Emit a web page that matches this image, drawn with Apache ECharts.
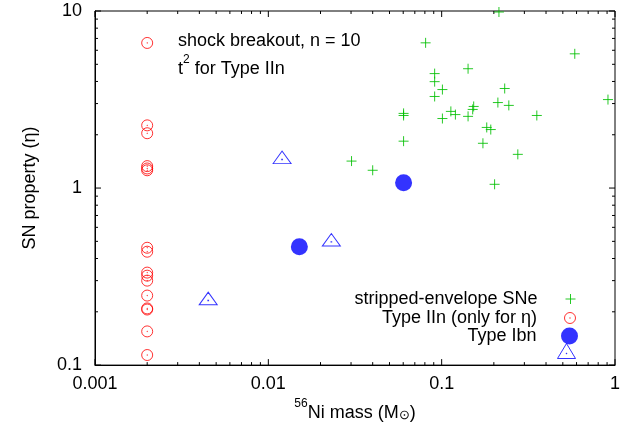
<!DOCTYPE html>
<html><head><meta charset="utf-8">
<script src="https://cdn.jsdelivr.net/npm/echarts@6/dist/echarts.min.js"></script>
<style>html,body{margin:0;padding:0;background:#fff}#c{width:628px;height:427px}</style>
</head><body><div id="c"></div>
<script>
// stripped-envelope SNe
const seX = [0.214,0.0808,0.586,0.142,0.0911,0.0911,0.101,0.231,0.0911,0.911,0.211,0.244,0.153,0.151,0.0603,0.0603,0.113,0.120,0.142,0.101,0.354,0.182,0.192,0.173,0.0603,0.275,0.0302,0.0400,0.202];
const seY = [9.87,6.61,5.73,4.72,4.43,3.99,3.60,3.65,3.29,3.16,3.04,2.93,2.89,2.78,2.64,2.57,2.71,2.60,2.54,2.47,2.57,2.20,2.14,1.79,1.84,1.55,1.42,1.26,1.05];
// Type IIn (only for eta)
const iinX = [0.002,0.002,0.002,0.002,0.002,0.002,0.002,0.002,0.002,0.002,0.002,0.002,0.002,0.002,0.002,0.002];
const iinY = [6.6,2.26,2.04,1.33,1.29,1.26,0.46,0.437,0.333,0.32,0.30,0.247,0.209,0.206,0.155,0.114];
// Type Ibn
const ibnX = [0.0151,0.0603];
const ibnY = [0.466,1.07];
// Type Ibn (triangles, unlabeled)
const triX = [0.0120,0.0231,0.0045];
const triY = [1.49,0.51,0.238];
// axis ticks
const xMajorTicks = [0.001,0.01,0.1,1];
const xMinorTicks = [0.002,0.003,0.004,0.005,0.006,0.007,0.008,0.009,0.02,0.03,0.04,0.05,0.06,0.07,0.08,0.09,0.2,0.3,0.4,0.5,0.6,0.7,0.8,0.9];
const yMajorTicks = [0.1,1,10];
const yMinorTicks = [0.2,0.3,0.4,0.5,0.6,0.7,0.8,0.9,2,3,4,5,6,7,8,9];
const xTickLabels = ['0.001','0.01','0.1','1'];
const yTickLabels = ['0.1','1','10'];

const X_MIN = 0.001, X_MAX = 1, Y_MIN = 0.1, Y_MAX = 10;
const FONT = 'Liberation Sans, Arial, sans-serif';
const GREEN = '#00c000', RED = '#ff0000', BLUE = '#0000ff';

const crossPath = 'path://M0,5L10,5M5,0L5,10';
const ringPath = 'path://M10,5A5,5 0 1,1 0,5A5,5 0 1,1 10,5Z M5.25,5A0.25,0.25 0 1,1 4.75,5A0.25,0.25 0 1,1 5.25,5Z';
const triPath = 'path://M0,15L9,0L18,15Z M9.3,10.3L8.7,10.3L8.7,9.7L9.3,9.7Z';

const zip = (a, b) => a.map((v, i) => [v, b[i]]);

function labelFor(list, labels) {
  return function (v) {
    for (let i = 0; i < list.length; i++) if (Math.abs(Math.log10(v) - Math.log10(list[i])) < 1e-6) return labels[i];
    return '';
  };
}

const xTickData = xMajorTicks.map(v => [v, Y_MIN, 1]).concat(xMinorTicks.map(v => [v, Y_MIN, 0]));
const yTickData = yMajorTicks.map(v => [X_MIN, v, 1]).concat(yMinorTicks.map(v => [X_MIN, v, 0]));

const tickStyle = { stroke: '#000', lineWidth: 1 };
const MAJOR_LEN = 6, MINOR_LEN = 3;

const chart = echarts.init(document.getElementById('c'), null, { renderer: 'canvas' });
const legendBase = {
  orient: 'vertical', align: 'right', right: 50, padding: 0, itemGap: 0,
  itemWidth: 56, selectedMode: false,
  textStyle: { fontFamily: FONT, fontSize: 18, color: '#000', lineHeight: 18 }
};
chart.setOption({
  animation: false,
  backgroundColor: '#fff',
  grid: { left: 95, right: 13, top: 11, bottom: 59, show: true, borderColor: '#000', borderWidth: 1, containLabel: false },
  xAxis: {
    type: 'log', logBase: 10, min: X_MIN, max: X_MAX,
    name: '{sup|56}{n|Ni mass (M}{sub|⊙}{n|)}', nameLocation: 'middle', nameGap: 28,
    nameTextStyle: {
      rich: {
        n: { fontFamily: FONT, fontSize: 18, color: '#000', lineHeight: 24, verticalAlign: 'bottom' },
        sup: { fontFamily: FONT, fontSize: 12, color: '#000', lineHeight: 24, verticalAlign: 'top' },
        sub: { fontFamily: FONT, fontSize: 13, color: '#000', lineHeight: 24, verticalAlign: 'bottom' }
      }
    },
    axisLine: { show: true, lineStyle: { color: '#000', width: 1 } },
    axisTick: { show: false }, splitLine: { show: false }, minorTick: { show: false },
    axisLabel: { fontFamily: FONT, fontSize: 18, color: '#000', margin: 10, formatter: labelFor(xMajorTicks, xTickLabels), showMinLabel: true, showMaxLabel: true }
  },
  yAxis: {
    type: 'log', logBase: 10, min: Y_MIN, max: Y_MAX,
    name: 'SN property (η)', nameLocation: 'middle', nameGap: 56, nameRotate: 90,
    nameTextStyle: { fontFamily: FONT, fontSize: 18, color: '#000' },
    axisLine: { show: true, lineStyle: { color: '#000', width: 1 } },
    axisTick: { show: false }, splitLine: { show: false },
    axisLabel: { fontFamily: FONT, fontSize: 18, color: '#000', margin: 13, formatter: labelFor(yMajorTicks, yTickLabels), showMinLabel: true, showMaxLabel: true }
  },
  legend: [
    Object.assign({}, legendBase, { top: 290, itemHeight: 10, data: [{ name: 'stripped-envelope SNe', itemStyle: { borderWidth: 1 } }] }),
    Object.assign({}, legendBase, { top: 309, itemHeight: 11, data: [{ name: 'Type IIn (only for η)', itemStyle: { borderWidth: 1 } }] }),
    Object.assign({}, legendBase, { top: 327, itemHeight: 17, data: [{ name: 'Type Ibn' }] }),
    Object.assign({}, legendBase, { top: 341, itemHeight: 15, formatter: () => '', data: [{ name: 'Type Ibn (tri)', itemStyle: { borderWidth: 1 } }] })
  ],
  graphic: [
    { type: 'text', left: 178, top: 32, style: { text: 'shock breakout, n = 10', font: '18px ' + FONT, fill: '#000' } },
    { type: 'text', left: 178, top: 54, style: {
      text: '{n|t}{s|2}{n| for Type IIn}',
      rich: {
        n: { fontFamily: FONT, fontSize: 18, fill: '#000', lineHeight: 24, verticalAlign: 'bottom' },
        s: { fontFamily: FONT, fontSize: 12, fill: '#000', lineHeight: 24, verticalAlign: 'top' }
      } } }
  ],
  series: [
    {
      name: 'x ticks', type: 'custom', coordinateSystem: 'cartesian2d', silent: true, clip: false,
      encode: { x: 0, y: 1 }, data: xTickData,
      renderItem: function (params, api) {
        const v = api.value(0), major = api.value(2);
        const pb = api.coord([v, Y_MIN]), pt = api.coord([v, Y_MAX]);
        const len = major ? MAJOR_LEN : MINOR_LEN;
        return { type: 'group', children: [
          { type: 'line', shape: { x1: pb[0], y1: pb[1], x2: pb[0], y2: pb[1] - len }, style: tickStyle },
          { type: 'line', shape: { x1: pt[0], y1: pt[1], x2: pt[0], y2: pt[1] + len }, style: tickStyle }
        ] };
      }
    },
    {
      name: 'y ticks', type: 'custom', coordinateSystem: 'cartesian2d', silent: true, clip: false,
      encode: { x: 0, y: 1 }, data: yTickData,
      renderItem: function (params, api) {
        const v = api.value(1), major = api.value(2);
        const pl = api.coord([X_MIN, v]), pr = api.coord([X_MAX, v]);
        const len = major ? MAJOR_LEN : MINOR_LEN;
        return { type: 'group', children: [
          { type: 'line', shape: { x1: pl[0], y1: pl[1], x2: pl[0] + len, y2: pl[1] }, style: tickStyle },
          { type: 'line', shape: { x1: pr[0], y1: pr[1], x2: pr[0] - len, y2: pr[1] }, style: tickStyle }
        ] };
      }
    },
    {
      name: 'stripped-envelope SNe', type: 'scatter', data: zip(seX, seY),
      symbol: crossPath, symbolSize: 10, silent: true,
      itemStyle: { color: 'none', borderColor: GREEN, borderWidth: 1, opacity: 0.85 }
    },
    {
      name: 'Type IIn (only for η)', type: 'scatter', data: zip(iinX, iinY),
      symbol: ringPath, symbolSize: 11, silent: true,
      itemStyle: { color: 'none', borderColor: RED, borderWidth: 1 }
    },
    {
      name: 'Type Ibn', type: 'scatter', data: zip(ibnX, ibnY),
      symbol: 'circle', symbolSize: 17, silent: true,
      itemStyle: { color: BLUE, borderWidth: 0 }
    },
    {
      name: 'Type Ibn (tri)', type: 'scatter', data: zip(triX, triY),
      symbol: triPath, symbolSize: [18, 15], symbolKeepAspect: true, silent: true,
      itemStyle: { color: 'none', borderColor: BLUE, borderWidth: 1 }
    }
  ]
});
</script>
</body></html>
